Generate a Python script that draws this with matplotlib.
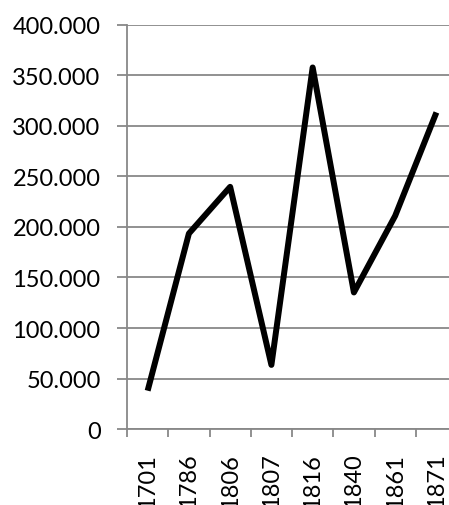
import matplotlib
matplotlib.use("Agg")
import matplotlib.pyplot as plt
from matplotlib.ticker import FuncFormatter, FixedLocator

categories = ["1701", "1786", "1806", "1807", "1816", "1840", "1861", "1871"]
values = [38000, 193500, 239700, 63500, 357800, 135200, 211000, 313300]
y_ticks = [0, 50000, 100000, 150000, 200000, 250000, 300000, 350000, 400000]

plt.rcParams['font.family'] = ['Lato', 'DejaVu Sans']

fig = plt.figure(figsize=(4.49, 5.06), dpi=100)
ax = fig.add_axes([0.2829, 0.150, 0.735, 0.799])

x = list(range(len(categories)))
ax.plot(x, values, color='black', linewidth=4.3, solid_joinstyle='round', solid_capstyle='butt', zorder=3)

ax.set_xlim(-0.5, len(categories) - 0.5)
ax.set_ylim(0, 400000)

grid_c = '#888888'
ax.set_yticks(y_ticks)
ax.yaxis.set_major_formatter(FuncFormatter(lambda v, p: "0" if v == 0 else f"{int(v):,}".replace(",", ".")))
ax.grid(axis='y', color=grid_c, linewidth=1.3, zorder=1)
ax.set_axisbelow(True)

ax.xaxis.set_major_locator(FixedLocator([i - 0.5 for i in range(len(categories) + 1)]))
ax.xaxis.set_major_formatter(FuncFormatter(lambda v, p: ""))
ax.xaxis.set_minor_locator(FixedLocator(x))
ax.set_xticklabels(categories, minor=True, rotation=90)
ax.tick_params(axis='x', which='minor', length=0, pad=17, labelsize=17)
ax.tick_params(axis='x', which='major', length=6, width=1.3, color=grid_c, direction='out')
ax.tick_params(axis='y', length=7, width=1.3, color=grid_c, direction='out', pad=12, labelsize=17)

for s in ['top', 'right']:
    ax.spines[s].set_visible(False)
for s in ['left', 'bottom']:
    ax.spines[s].set_color(grid_c)
    ax.spines[s].set_linewidth(1.3)

fig.savefig("out.png", dpi=100)
